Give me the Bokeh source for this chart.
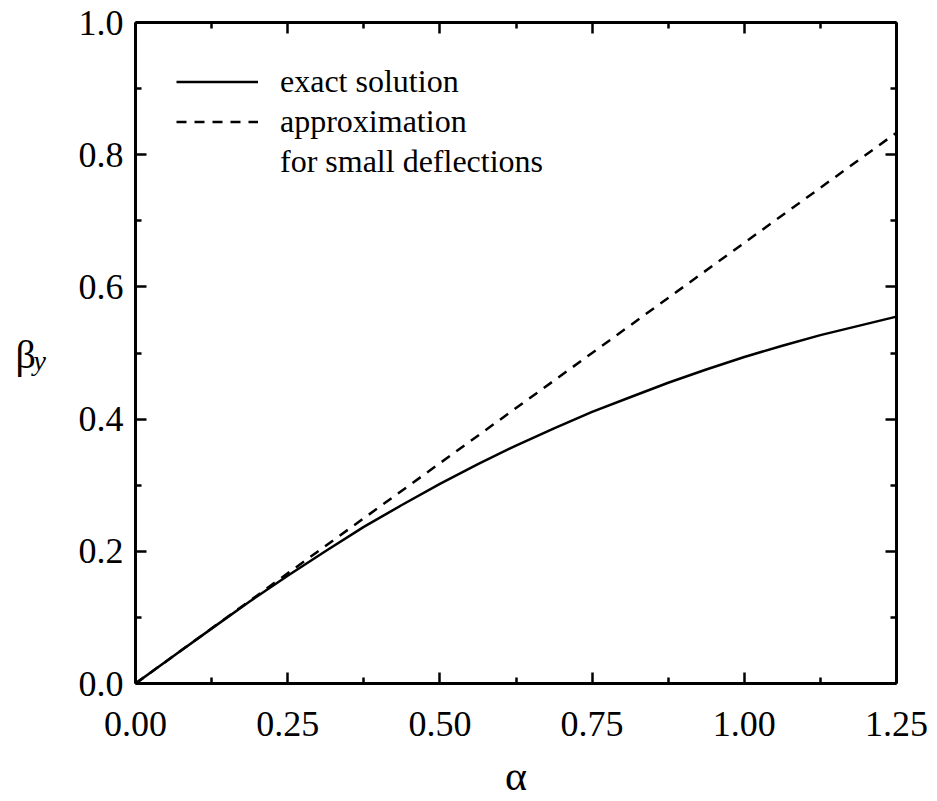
from bokeh.plotting import figure
from bokeh.layouts import row
from bokeh.models import (Range1d, LinearAxis, FixedTicker, Label, Legend,
                          LegendItem, PrintfTickFormatter)
from bokeh.embed import file_html
from bokeh.resources import INLINE

# ---- data ----
alpha_exact = [0.0, 0.0625, 0.125, 0.1875, 0.25, 0.3125, 0.375, 0.4375, 0.5,
               0.5625, 0.625, 0.6875, 0.75, 0.8125, 0.875, 0.9375, 1.0,
               1.0625, 1.125, 1.1875, 1.25]
beta_exact = [0.0, 0.0416, 0.083, 0.124, 0.163, 0.2005, 0.237, 0.270, 0.302,
              0.332, 0.360, 0.386, 0.411, 0.433, 0.455, 0.475, 0.494,
              0.511, 0.527, 0.541, 0.555]
alpha_approx = [0.0, 0.25, 0.5, 0.75, 1.0, 1.25]
beta_approx = [0.0, 0.1667, 0.3333, 0.5, 0.6667, 0.8333]

x_major = [0.0, 0.25, 0.5, 0.75, 1.0, 1.25]
x_minor = [0.125, 0.375, 0.625, 0.875, 1.125]
y_major = [0.0, 0.2, 0.4, 0.6, 0.8, 1.0]
y_minor = [0.1, 0.3, 0.5, 0.7, 0.9]

legend_labels = ["exact solution", "approximation", "for small deflections"]
x_label = "α"
y_label = "β"
y_label_sub = "y"

FONT = "Liberation Serif"
LABEL_W = 60
TOP, BOTTOM = 22, 116

y_range = Range1d(0, 1.0)

# ---- narrow side figure holding the y-axis label ----
lab = figure(width=LABEL_W, height=801, output_backend="svg", toolbar_location=None,
             x_range=Range1d(0, 1), y_range=y_range,
             x_axis_location=None, y_axis_location=None,
             min_border_left=0, min_border_right=0,
             min_border_top=TOP, min_border_bottom=BOTTOM)
lab.grid.visible = False
lab.outline_line_color = None
lab.add_layout(Label(x=15, y=0.4977, x_units="screen", y_units="data", text=y_label,
                     text_font=FONT, text_font_size="40px", text_color="black",
                     text_align="left", text_baseline="alphabetic"))
lab.add_layout(Label(x=33, y=0.4887, x_units="screen", y_units="data", text=y_label_sub,
                     text_font=FONT, text_font_size="28px", text_font_style="italic",
                     text_color="black", text_align="left", text_baseline="alphabetic"))

# ---- main figure ----
p = figure(width=937 - LABEL_W, height=801, output_backend="svg", toolbar_location=None,
           x_range=Range1d(0, 1.25), y_range=y_range,
           x_axis_location=None, y_axis_location=None,
           min_border_left=135 - LABEL_W, min_border_right=41,
           min_border_top=TOP, min_border_bottom=BOTTOM)
p.grid.visible = False
p.outline_line_color = None
p.background_fill_color = "white"
p.border_fill_color = "white"

xt = FixedTicker(ticks=x_major, minor_ticks=x_minor)
yt = FixedTicker(ticks=y_major, minor_ticks=y_minor)


def style(ax, show_labels):
    ax.axis_line_width = 3
    ax.axis_line_color = "black"
    ax.major_tick_in = 11
    ax.major_tick_out = 0
    ax.minor_tick_in = 6
    ax.minor_tick_out = 0
    ax.major_tick_line_width = 2.5
    ax.minor_tick_line_width = 2.5
    ax.major_tick_line_color = "black"
    ax.minor_tick_line_color = "black"
    if show_labels:
        ax.major_label_text_font = FONT
        ax.major_label_text_font_size = "36px"
        ax.major_label_text_color = "black"
    else:
        ax.major_label_text_color = None
        ax.major_label_text_font_size = "1px"
        ax.major_label_standoff = 0


bottom = LinearAxis(ticker=xt, formatter=PrintfTickFormatter(format="%.2f"))
style(bottom, True)
bottom.major_label_standoff = 28
bottom.axis_label = x_label
bottom.axis_label_text_font = FONT
bottom.axis_label_text_font_size = "42px"
bottom.axis_label_text_font_style = "normal"
bottom.axis_label_text_color = "black"
bottom.axis_label_standoff = 14
p.add_layout(bottom, "below")

left = LinearAxis(ticker=yt, formatter=PrintfTickFormatter(format="%.1f"))
style(left, True)
left.major_label_standoff = 12
p.add_layout(left, "left")

top = LinearAxis(ticker=xt)
style(top, False)
p.add_layout(top, "above")

right = LinearAxis(ticker=yt)
style(right, False)
p.add_layout(right, "right")

r_exact = p.line(alpha_exact, beta_exact, line_color="black", line_width=2.5)
r_approx = p.line(alpha_approx, beta_approx, line_color="black", line_width=2.5,
                  line_dash="10 8")
r_blank = p.line([], [], line_color="black", line_alpha=0)

legend = Legend(items=[LegendItem(label=legend_labels[0], renderers=[r_exact]),
                       LegendItem(label=legend_labels[1], renderers=[r_approx]),
                       LegendItem(label=legend_labels[2], renderers=[r_blank])],
                location="top_left")
legend.margin = 41
legend.padding = 21
legend.border_line_color = None
legend.background_fill_alpha = 0
legend.label_text_font = FONT
legend.label_text_font_size = "32px"
legend.label_text_color = "black"
legend.glyph_width = 82
legend.glyph_height = 37
legend.label_height = 37
legend.label_standoff = 22
legend.spacing = 3
p.add_layout(legend)

layout = row(lab, p, spacing=0)
open("out.html", "w").write(file_html(layout, INLINE))
